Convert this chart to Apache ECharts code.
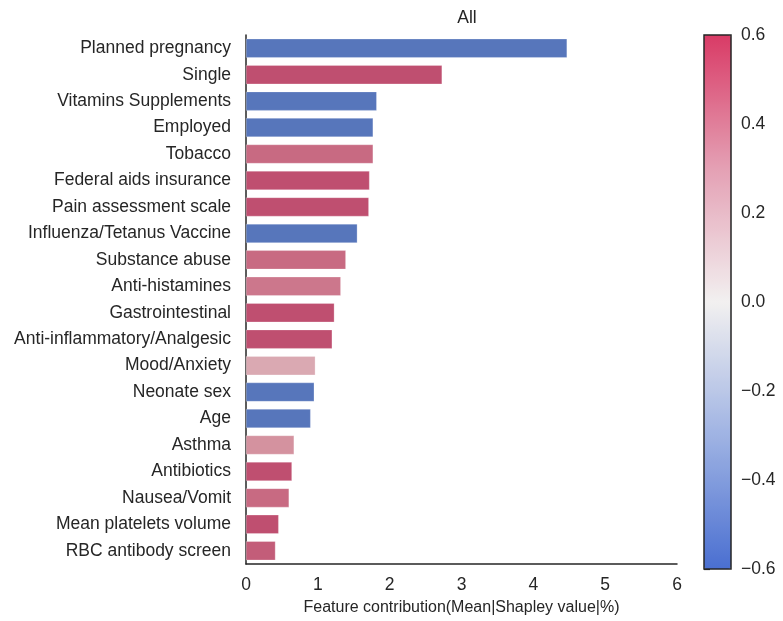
<!DOCTYPE html>
<html>
<head>
<meta charset="utf-8">
<script src="https://cdn.jsdelivr.net/npm/echarts@6/dist/echarts.min.js"></script>
<style>
  html, body { margin: 0; padding: 0; background: #fff; }
  #chart { width: 783px; height: 621px; }
</style>
</head>
<body>
<div id="chart"></div>
<script>
// features, top to bottom
const features = [
  'Planned pregnancy', 'Single', 'Vitamins Supplements', 'Employed', 'Tobacco',
  'Federal aids insurance', 'Pain assessment scale', 'Influenza/Tetanus Vaccine',
  'Substance abuse', 'Anti-histamines', 'Gastrointestinal', 'Anti-inflammatory/Analgesic',
  'Mood/Anxiety', 'Neonate sex', 'Age', 'Asthma', 'Antibiotics', 'Nausea/Vomit',
  'Mean platelets volume', 'RBC antibody screen'
]
// mean |shapley| contribution (%)
const contribution = [
  4.47, 2.73, 1.82, 1.77, 1.77,
  1.72, 1.71, 1.55,
  1.39, 1.32, 1.23, 1.20,
  0.965, 0.95, 0.90, 0.67, 0.64, 0.60,
  0.455, 0.41
]
// direction value shown by the colour bar
const direction = [
  -0.55, 0.55, -0.55, -0.55, 0.45,
  0.55, 0.55, -0.55,
  0.45, 0.40, 0.55, 0.55,
  0.22, -0.55, -0.55, 0.30, 0.55, 0.45,
  0.55, 0.50
]
const xTicks = [0, 1, 2, 3, 4, 5, 6]
const cbarTicks = [-0.6, -0.4, -0.2, 0.0, 0.2, 0.4, 0.6]

const font = 'Liberation Sans, Arial, sans-serif'
const ink = '#262626'

const chart = echarts.init(document.getElementById('chart'))

const barData = features.map((f, i) => [contribution[i], f, direction[i]])

const option = {
  backgroundColor: '#fff',
  animation: false,
  textStyle: { fontFamily: font },
  title: {
    text: 'All',
    left: 462,
    top: 4,
    textAlign: 'center',
    textStyle: { fontSize: 17.5, fontWeight: 'normal', color: ink, fontFamily: font }
  },
  grid: [
    { left: 246, right: 106, top: 35, bottom: 52 },
    // colour bar frame
    { left: 704, width: 27, top: 35, height: 534, show: true, z: 10,
      borderColor: ink, borderWidth: 1.5, backgroundColor: 'transparent' }
  ],
  xAxis: [
    {
      type: 'value',
      gridIndex: 0,
      min: xTicks[0],
      max: xTicks[xTicks.length - 1],
      interval: 1,
      name: 'Feature contribution(Mean|Shapley value|%)',
      nameLocation: 'middle',
      nameGap: 36,
      nameTextStyle: { fontSize: 16, color: ink, fontFamily: font },
      axisLine: { show: true, lineStyle: { color: ink, width: 1.5 } },
      axisTick: { show: false },
      axisLabel: { fontSize: 17.5, color: ink, margin: 12, fontFamily: font },
      splitLine: { show: false }
    },
    {
      type: 'value', gridIndex: 1, min: 0, max: 1,
      show: false
    }
  ],
  yAxis: [
    {
      type: 'category',
      gridIndex: 0,
      data: features,
      inverse: true,
      axisLine: { show: true, lineStyle: { color: ink, width: 1.5 } },
      axisTick: { show: false },
      axisLabel: { fontSize: 17.5, color: ink, margin: 15, fontFamily: font }
    },
    {
      type: 'value',
      gridIndex: 1,
      position: 'right',
      min: cbarTicks[0],
      max: cbarTicks[cbarTicks.length - 1],
      interval: 0.2,
      axisLine: { show: false },
      axisTick: { show: true, length: 6, lineStyle: { color: ink, width: 1.2 } },
      axisLabel: {
        fontSize: 17.5, color: ink, margin: 10, fontFamily: font,
        formatter: v => v.toFixed(1).replace('-', '\u2212')
      },
      splitLine: { show: false }
    }
  ],
  visualMap: [
    {
      // displayed colour bar
      type: 'continuous',
      seriesIndex: [],
      min: -0.6,
      max: 0.6,
      left: 704,
      top: 35,
      padding: 0,
      itemWidth: 27,
      itemHeight: 534,
      calculable: false,
      showLabel: false,
      text: null,
      z: 2,
      inRange: { color: ['#4a6fd1', '#9fb3e3', '#f2f0f0', '#e4a0b4', '#d93b66'] }
    },
    {
      // bar colours (desaturated)
      type: 'continuous',
      show: false,
      seriesIndex: 0,
      dimension: 2,
      min: -0.6,
      max: 0.6,
      inRange: { color: ['#4a6cb6', '#9aabd3', '#ebe7e8', '#d4929f', '#bb4266'] }
    }
  ],
  series: [
    {
      type: 'bar',
      xAxisIndex: 0,
      yAxisIndex: 0,
      encode: { x: 0, y: 1 },
      barWidth: 19,
      data: barData,
      itemStyle: { borderColor: 'rgba(255,255,255,0.5)', borderWidth: 0.5 }
    }
  ]
}

chart.setOption(option)
</script>
</body>
</html>
